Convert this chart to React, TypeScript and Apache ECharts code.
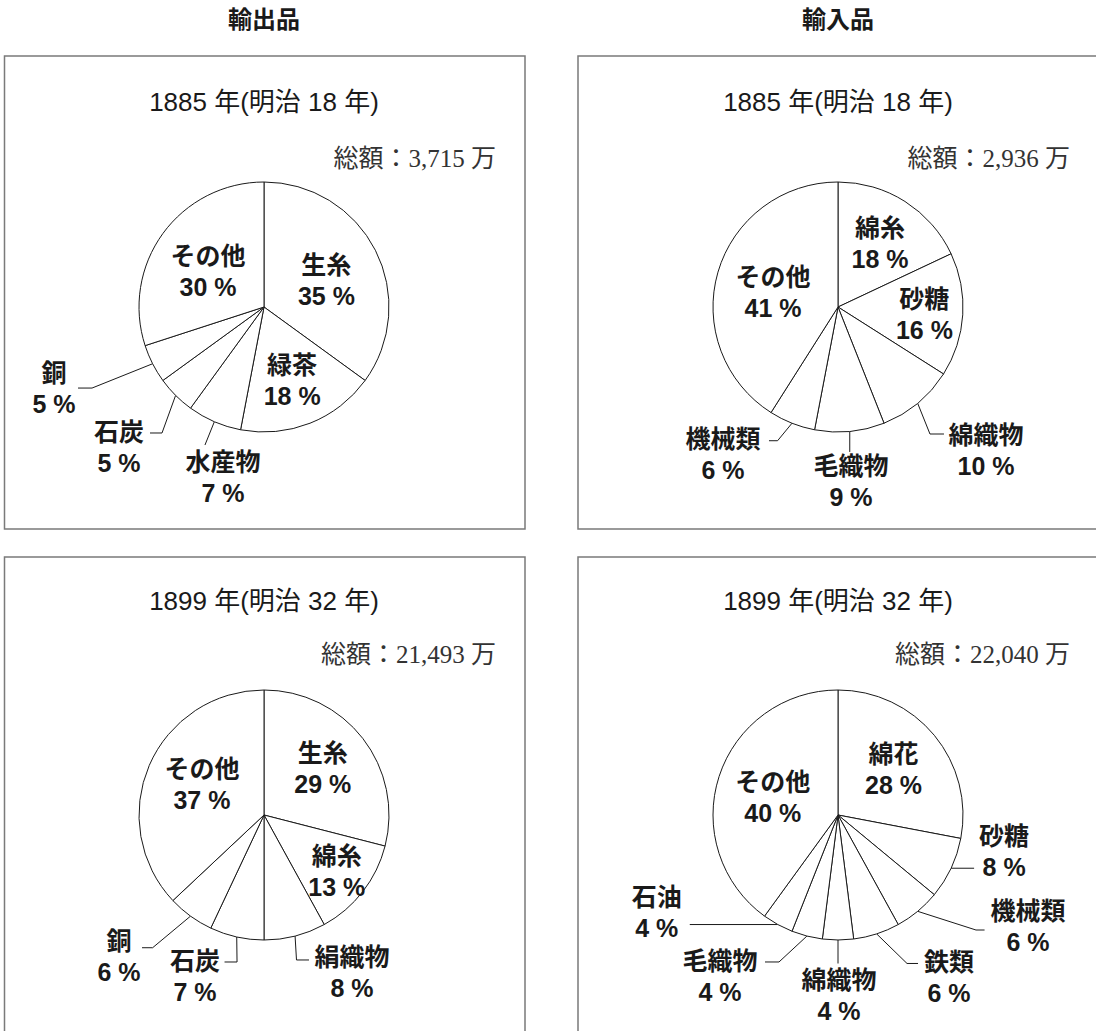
import React, { useEffect, useRef } from 'react';
import * as echarts from 'echarts';

const W = 1096;
const H = 1031;

// ---- data ----
const columnHeaders = ['輸出品', '輸入品'];
const panelTitles = ['1885 年(明治 18 年)', '1885 年(明治 18 年)', '1899 年(明治 32 年)', '1899 年(明治 32 年)'];
const panelTotals = ['総額：3,715 万', '総額：2,936 万', '総額：21,493 万', '総額：22,040 万'];

const exp1885Names = ['生糸', '緑茶', '水産物', '石炭', '銅', 'その他'];
const exp1885Values = [35, 18, 7, 5, 5, 30];
const imp1885Names = ['綿糸', '砂糖', '綿織物', '毛織物', '機械類', 'その他'];
const imp1885Values = [18, 16, 10, 9, 6, 41];
const exp1899Names = ['生糸', '綿糸', '絹織物', '石炭', '銅', 'その他'];
const exp1899Values = [29, 13, 8, 7, 6, 37];
const imp1899Names = ['綿花', '砂糖', '機械類', '鉄類', '綿織物', '毛織物', '石油', 'その他'];
const imp1899Values = [28, 8, 6, 6, 4, 4, 4, 40];

// ---- label placement (style only) ----
type LL = { dx?: number; dy?: number; line?: [number, number][]; at?: [number, number] };

const layoutTL: LL[] = [
  { dx: 4, dy: 3 },
  { dx: 4, dy: 13 },
  { line: [[-9.4, 23.3]], at: [8.6, 55.8] },
  { line: [[-13.6, 37.6], [-25.6, 37.6]], at: [-56.6, 52.6] },
  { line: [[-60.6, 24.3], [-74.6, 24.3]], at: [-98.6, 24.3] },
  { dx: -3, dy: 3 },
];
const layoutTR: LL[] = [
  { dx: 7, dy: -8 },
  { dx: 21, dy: 3 },
  { line: [[12.3, 30.7], [26.3, 30.7]], at: [68.3, 46.7] },
  { line: [[0, 20.5]], at: [1.2, 50] },
  { line: [[-14.4, 17.5], [-23, 17.5]], at: [-69, 31.3] },
  { dx: -2, dy: 4 },
];
const layoutBL: LL[] = [
  { dx: 7, dy: -6 },
  { dx: 21, dy: 16 },
  { line: [[1.4, 23.9], [13.9, 23.9]], at: [56.9, 36.9] },
  { line: [[0.3, 25], [-12.2, 25]], at: [-41.7, 39.5] },
  { line: [[-37.9, 31.6], [-48.5, 31.6]], at: [-71.5, 40.4] },
  { dx: -2, dy: -4 },
];
const layoutBR: LL[] = [
  { dx: 5, dy: -4 },
  { line: [[23, 0]], at: [53, -17] },
  { line: [[58.3, 18.7], [66.9, 18.7]], at: [110.3, 14.7] },
  { line: [[30.4, 29.6], [41.4, 29.6]], at: [72.4, 43.6] },
  { line: [[0, 23.5]], at: [1, 55] },
  { line: [[-27.9, 25.9], [-41.9, 25.9]], at: [-86.9, 40.4] },
  { line: [[-88, 0]], at: [-121, -12.5] },
  { dx: -3, dy: 3 },
];

const SANS = "'Noto Sans CJK JP', 'Noto Sans', sans-serif";
const LABEL_FONT = "'Liberation Sans', 'Noto Sans CJK JP', sans-serif";
const SERIF = "'Liberation Serif', 'Noto Sans CJK JP', serif";
const R = 125;
const LINE = '#1a1a1a';

type Panel = {
  names: string[];
  values: number[];
  layout: LL[];
  cx: number;
  cy: number;
  boxX: number;
  boxY: number;
  titleY: number;
  totalY: number;
};

const panels: Panel[] = [
  { names: exp1885Names, values: exp1885Values, layout: layoutTL, cx: 264, cy: 307, boxX: 4.5, boxY: 56, titleY: 102, totalY: 158.5 },
  { names: imp1885Names, values: imp1885Values, layout: layoutTR, cx: 838, cy: 307, boxX: 578, boxY: 56, titleY: 102, totalY: 158.5 },
  { names: exp1899Names, values: exp1899Values, layout: layoutBL, cx: 264, cy: 815, boxX: 4.5, boxY: 557, titleY: 600.5, totalY: 654 },
  { names: imp1899Names, values: imp1899Values, layout: layoutBR, cx: 838, cy: 815, boxX: 578, boxY: 557, titleY: 600.5, totalY: 654 },
];

function fallbackAnchor(values: number[], idx: number, cx: number, cy: number): [number, number] {
  const total = values.reduce((a, b) => a + b, 0);
  let before = 0;
  for (let i = 0; i < idx; i++) before += values[i];
  const mid = ((before + values[idx] / 2) / total) * Math.PI * 2;
  return [cx + R * Math.sin(mid), cy - R * Math.cos(mid)];
}

function makeLayout(p: Panel) {
  return (params: any) => {
    const L = p.layout[params.dataIndex];
    if (!L) return {};
    if (L.line && L.at) {
      const pts0 = params.labelLinePoints;
      const a: [number, number] = pts0 && pts0[0] ? [pts0[0][0], pts0[0][1]] : fallbackAnchor(p.values, params.dataIndex, p.cx, p.cy);
      const pts = [[a[0], a[1]], ...L.line.map(([dx, dy]) => [a[0] + dx, a[1] + dy])];
      return {
        x: a[0] + L.at[0],
        y: a[1] + L.at[1],
        align: 'center',
        verticalAlign: 'middle',
        labelLinePoints: pts,
      };
    }
    const rc = params.labelRect;
    return {
      x: rc.x + rc.width / 2 + (L.dx || 0),
      y: rc.y + rc.height / 2 + (L.dy || 0),
      align: 'center',
      verticalAlign: 'middle',
    };
  };
}

function buildOption() {
  const graphic: any[] = [];
  columnHeaders.forEach((t, i) => {
    graphic.push({
      type: 'text',
      x: i === 0 ? 264 : 838,
      y: 17,
      silent: true,
      style: { text: t, fontFamily: SANS, fontSize: 24, fontWeight: 'bold', fill: '#1a1a1a', align: 'center', verticalAlign: 'middle' },
    });
  });
  panels.forEach((p, i) => {
    graphic.push({
      type: 'rect',
      silent: true,
      shape: { x: p.boxX, y: p.boxY, width: p.boxX < 100 ? 520.5 : 600, height: p.boxY < 100 ? 473 : 520 },
      style: { fill: 'none', stroke: '#7a7a7a', lineWidth: 1.5 },
    });
    graphic.push({
      type: 'text',
      x: p.cx,
      y: p.titleY,
      silent: true,
      style: { text: panelTitles[i], fontFamily: LABEL_FONT, fontSize: 26, fill: '#1a1a1a', align: 'center', verticalAlign: 'middle' },
    });
    graphic.push({
      type: 'text',
      x: p.cx + 232,
      y: p.totalY,
      silent: true,
      style: { text: panelTotals[i], fontFamily: SERIF, fontSize: 25, fill: '#333', align: 'right', verticalAlign: 'middle' },
    });
  });

  const series = panels.map((p) => ({
    type: 'pie',
    center: [p.cx, p.cy],
    radius: [0, R],
    startAngle: 90,
    clockwise: true,
    avoidLabelOverlap: false,
    silent: true,
    emphasis: { disabled: true },
    itemStyle: { color: '#ffffff', borderColor: LINE, borderWidth: 1 },
    label: {
      show: true,
      position: 'outside',
      formatter: '{b}\n{c} %',
      fontFamily: LABEL_FONT,
      fontSize: 25,
      fontWeight: 'bold',
      lineHeight: 31,
      color: '#1a1a1a',
      align: 'center',
    },
    labelLine: { show: true, lineStyle: { color: LINE, width: 1 } },
    labelLayout: makeLayout(p),
    data: p.names.map((n, i) => {
      const inside = !p.layout[i].line;
      return {
        name: n,
        value: p.values[i],
        label: { position: inside ? 'inside' : 'outside' },
        labelLine: { show: !inside },
      };
    }),
  }));

  return { animation: false, backgroundColor: '#ffffff', graphic, series };
}

export default function App() {
  const ref = useRef<HTMLDivElement>(null);
  useEffect(() => {
    if (!ref.current) return;
    const chart = echarts.init(ref.current, null, { renderer: 'svg', width: W, height: H });
    chart.setOption(buildOption() as any);
    return () => chart.dispose();
  }, []);
  return <div ref={ref} style={{ position: 'absolute', left: 0, top: 0, width: W, height: H, background: '#fff' }} />;
}
